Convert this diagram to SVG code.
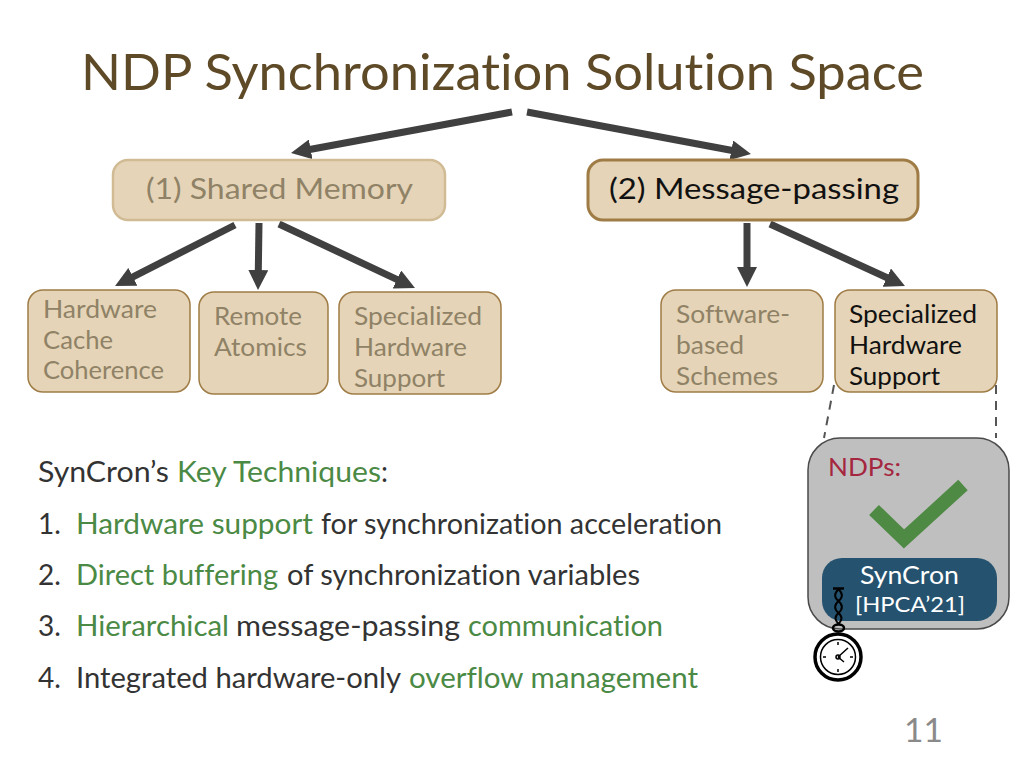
<svg xmlns="http://www.w3.org/2000/svg" width="1024" height="768" viewBox="0 0 1024 768">
<style>
text{font-family:"Lato","Noto Sans","Liberation Sans",sans-serif;font-variant-ligatures:none}
.box{fill:#e5d4b7;stroke:#9f7c45;stroke-width:1.5}
.dim{fill:#8f8266}
.dk{fill:#111}
.t{font-size:25.5px}
.b{font-size:28px}
.m{font-size:28px;fill:#333}
.m.g{fill:#4b8a45}
.ar{fill:none;stroke:#404040;stroke-width:7;marker-end:url(#a)}
.ds{fill:none;stroke:#555;stroke-width:2;stroke-dasharray:9 7}
</style>
<defs>
<marker id="a" markerUnits="userSpaceOnUse" markerWidth="20" markerHeight="20" refX="1" refY="10" orient="auto" viewBox="0 0 20 20"><path d="M0 0L20 10L0 20Z" fill="#404040"/></marker>
</defs>
<rect width="1024" height="768" fill="#fff"/>
<text id="title" x="81" y="90" font-size="51" fill="#5f4a27" textLength="843" lengthAdjust="spacingAndGlyphs">NDP Synchronization Solution Space</text>
<g id="connectors">
<path class="ar" d="M512 112L309.700 149.500"/>
<path class="ar" d="M527 112L732.300 150.500"/>
<path class="ar" d="M235 225L132 277.300"/>
<path class="ar" d="M259 223L258.300 271"/>
<path class="ar" d="M279 224L397.800 279.900"/>
<path class="ar" d="M747 223V268"/>
<path class="ar" d="M770 224L887.700 278"/>
<path class="ds" d="M834 385L824 438"/>
<path class="ds" d="M996 385V438"/>
</g>
<g id="shared-memory">
<rect x="113" y="160" width="332" height="60" rx="15" fill="#e5d4b7" stroke="#d1bb95" stroke-width="2.500"/>
<text class="b dim" x="146" y="199" textLength="267" lengthAdjust="spacingAndGlyphs">(1) Shared Memory</text>
</g>
<g id="message-passing">
<rect x="588" y="160" width="330" height="60" rx="15" fill="#e5d4b7" stroke="#9f7c45" stroke-width="3"/>
<text class="b dk" x="609" y="199" textLength="290" lengthAdjust="spacingAndGlyphs">(2) Message-passing</text>
</g>
<g id="hardware-cache">
<rect class="box" x="28" y="290" width="162" height="102" rx="15"/>
<text class="t dim" x="43" y="318" textLength="114" lengthAdjust="spacingAndGlyphs">Hardware</text>
<text class="t dim" x="43" y="349" textLength="70" lengthAdjust="spacingAndGlyphs">Cache</text>
<text class="t dim" x="43" y="379" textLength="121" lengthAdjust="spacingAndGlyphs">Coherence</text>
</g>
<g id="remote-atomics">
<rect class="box" x="199" y="292" width="129" height="102" rx="15"/>
<text class="t dim" x="214" y="325" textLength="88" lengthAdjust="spacingAndGlyphs">Remote</text>
<text class="t dim" x="214" y="356" textLength="93" lengthAdjust="spacingAndGlyphs">Atomics</text>
</g>
<g id="specialized-1">
<rect class="box" x="339" y="292" width="162" height="102" rx="15"/>
<text class="t dim" x="354" y="325" textLength="128" lengthAdjust="spacingAndGlyphs">Specialized</text>
<text class="t dim" x="354" y="356" textLength="113" lengthAdjust="spacingAndGlyphs">Hardware</text>
<text class="t dim" x="354" y="387" textLength="91" lengthAdjust="spacingAndGlyphs">Support</text>
</g>
<g id="software-based">
<rect class="box" x="661" y="290" width="162" height="102" rx="15"/>
<text class="t dim" x="676" y="323" textLength="114" lengthAdjust="spacingAndGlyphs">Software-</text>
<text class="t dim" x="676" y="354" textLength="68" lengthAdjust="spacingAndGlyphs">based</text>
<text class="t dim" x="676" y="385" textLength="102" lengthAdjust="spacingAndGlyphs">Schemes</text>
</g>
<g id="specialized-2">
<rect class="box" x="835" y="290" width="162" height="102" rx="15"/>
<text class="t dk" x="849" y="323" textLength="128" lengthAdjust="spacingAndGlyphs">Specialized</text>
<text class="t dk" x="849" y="354" textLength="113" lengthAdjust="spacingAndGlyphs">Hardware</text>
<text class="t dk" x="849" y="385" textLength="91" lengthAdjust="spacingAndGlyphs">Support</text>
</g>
<g id="ndps">
<rect x="808" y="438" width="201" height="191" rx="32" fill="#bfbfbf" stroke="#4a4a4a" stroke-width="1.500"/>
<text x="828" y="476" font-size="25" fill="#a5263f" textLength="73" lengthAdjust="spacingAndGlyphs">NDPs:</text>
<path d="M874 510L904 539L963 485" fill="none" stroke="#4f8a45" stroke-width="14"/>
</g>
<g id="syncron">
<rect x="822" y="558" width="175" height="63" rx="20" fill="#25536f"/>
<text x="860" y="584" font-size="25" fill="#fff" textLength="99" lengthAdjust="spacingAndGlyphs">SynCron</text>
<text x="855" y="612" font-size="22" fill="#fff" textLength="110" lengthAdjust="spacingAndGlyphs">[HPCA’21]</text>
</g>
<g id="stopwatch" fill="none" stroke="#000">
<path d="M833 588.500H844" stroke-width="2.500"/>
<path d="M838.500 589C834 594 834 597 838.500 601C843 605 843 609 838.500 613C834 617 835 620 838.500 624M838.500 589C843 594 843 597 838.500 601C834 605 834 609 838.500 613C843 617 842 620 838.500 624" stroke-width="2"/>
<ellipse cx="838.500" cy="628" rx="5.500" ry="3.500" stroke-width="2.500"/>
<circle cx="838" cy="657" r="23" fill="#fff" stroke-width="3.500"/>
<circle cx="838" cy="657" r="17.500" stroke-width="1.500"/>
<path d="M838 642v3M838 669v3M823 657h3M850 657h3M838 657l10-9M838 657l6 5" stroke-width="1.500"/>
<circle cx="838" cy="657" r="2" stroke-width="1.500"/>
</g>
<g id="techniques">
<text class="m" x="38" y="482" textLength="131" lengthAdjust="spacingAndGlyphs">SynCron’s</text>
<text class="m g" x="177" y="482" textLength="204" lengthAdjust="spacingAndGlyphs">Key Techniques</text>
<text class="m" x="381" y="482">:</text>
<text class="m" x="38" y="534">1.</text>
<text class="m g" x="76" y="534" textLength="237" lengthAdjust="spacingAndGlyphs">Hardware support</text>
<text class="m" x="321" y="534" textLength="401" lengthAdjust="spacingAndGlyphs">for synchronization acceleration</text>
<text class="m" x="38" y="585">2.</text>
<text class="m g" x="76" y="585" textLength="202" lengthAdjust="spacingAndGlyphs">Direct buffering</text>
<text class="m" x="287" y="585" textLength="353" lengthAdjust="spacingAndGlyphs">of synchronization variables</text>
<text class="m" x="38" y="636">3.</text>
<text class="m g" x="76" y="636" textLength="153" lengthAdjust="spacingAndGlyphs">Hierarchical</text>
<text class="m" x="236" y="636" textLength="224" lengthAdjust="spacingAndGlyphs">message-passing</text>
<text class="m g" x="468" y="636" textLength="195" lengthAdjust="spacingAndGlyphs">communication</text>
<text class="m" x="38" y="688">4.</text>
<text class="m" x="76" y="688" textLength="325" lengthAdjust="spacingAndGlyphs">Integrated hardware-only</text>
<text class="m g" x="409" y="688" textLength="289" lengthAdjust="spacingAndGlyphs">overflow management</text>
</g>
<text id="page" x="904" y="742" font-size="33" fill="#8a8a8a" textLength="39" lengthAdjust="spacingAndGlyphs">11</text>
</svg>
